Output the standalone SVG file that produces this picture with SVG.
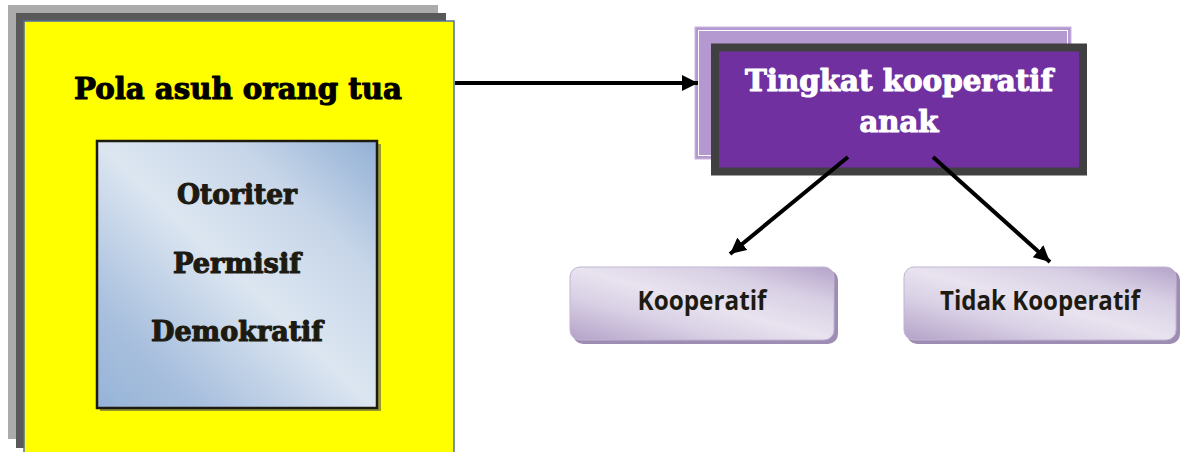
<svg xmlns="http://www.w3.org/2000/svg" width="1186" height="452" viewBox="0 0 1186 452">
  <defs>
    <linearGradient id="blueFill" x1="0" y1="1" x2="1" y2="0">
      <stop offset="0" stop-color="#95b3d7"/>
      <stop offset="0.2" stop-color="#a9c0de"/>
      <stop offset="0.5" stop-color="#dce6f1"/>
      <stop offset="0.75" stop-color="#c6d5e8"/>
      <stop offset="1" stop-color="#92b0d6"/>
    </linearGradient>
    <linearGradient id="lavFill" x1="0" y1="1" x2="1" y2="0">
      <stop offset="0" stop-color="#b3a2c8"/>
      <stop offset="0.3" stop-color="#d9d0e5"/>
      <stop offset="0.5" stop-color="#e8e3ef"/>
      <stop offset="0.75" stop-color="#d8cfe4"/>
      <stop offset="1" stop-color="#b4a3c9"/>
    </linearGradient>
    <marker id="head" markerUnits="userSpaceOnUse" markerWidth="18" markerHeight="18" refX="16" refY="8" orient="auto">
      <path d="M0,0 L16,8 L0,16 Z" fill="#000"/>
    </marker>
  </defs>
  <style>
    .heavy { font-family: "DejaVu Serif", "Liberation Serif", serif; font-weight: bold; text-anchor: middle; stroke-width: 1.1; stroke-linejoin: round; }
    .dark { fill: #1d1b11; stroke: #1d1b11; }
    .title { fill: #000; stroke: #000; font-size: 30px; }
    .item { font-size: 27px; }
    .white { fill: #ffffff; stroke: #ffffff; font-size: 29px; }
    .plain { font-family: "Open Sans", "Noto Sans", sans-serif; font-weight: bold; font-size: 26px; fill: #1d1b11; text-anchor: middle; }
    .conn { stroke: #000; stroke-width: 4; fill: none; marker-end: url(#head); }
    .pill { fill: url(#lavFill); stroke: #c2b5d4; stroke-width: 1; }
    .pillShadow { fill: #9d8db3; }
  </style>

  <!-- parenting styles panel -->
  <g id="pola-asuh">
    <rect x="8" y="5" width="430" height="434" fill="#ababab"/>
    <rect x="16" y="13" width="430" height="435" fill="#595959"/>
    <rect x="24" y="21" width="430" height="445" fill="#ffff00" stroke="#4f6f9c" stroke-width="1.5"/>
    <text class="heavy title" x="238" y="99" textLength="328" lengthAdjust="spacingAndGlyphs">Pola asuh orang tua</text>
  </g>

  <g id="jenis-pola-asuh">
    <rect x="100" y="144" width="281" height="267" fill="#9a9a2e"/>
    <rect x="97" y="141" width="280" height="267" fill="url(#blueFill)" stroke="#1d1b11" stroke-width="2.5"/>
    <text class="heavy dark item" x="237" y="204" textLength="120" lengthAdjust="spacingAndGlyphs">Otoriter</text>
    <text class="heavy dark item" x="237" y="273" textLength="128" lengthAdjust="spacingAndGlyphs">Permisif</text>
    <text class="heavy dark item" x="237" y="341" textLength="172" lengthAdjust="spacingAndGlyphs">Demokratif</text>
  </g>

  <!-- outcome box -->
  <g id="tingkat-kooperatif">
    <rect x="695" y="27" width="376" height="132" fill="#b498d0" stroke="#c9b6df" stroke-width="1"/>
    <rect x="698.5" y="30.5" width="369" height="125" fill="none" stroke="#ffffff" stroke-width="1"/>
    <rect x="715" y="47.5" width="368" height="124" fill="#7030a0" stroke="#404040" stroke-width="8"/>
    <text class="heavy white" x="899" y="91" textLength="308" lengthAdjust="spacingAndGlyphs">Tingkat kooperatif</text>
    <text class="heavy white" x="899" y="132" textLength="79" lengthAdjust="spacingAndGlyphs">anak</text>
  </g>

  <g id="kooperatif">
    <rect class="pillShadow" x="573" y="270" width="265" height="74" rx="10"/>
    <rect class="pill" x="570" y="267" width="264" height="73" rx="10"/>
    <text class="plain" x="702" y="310" textLength="129" lengthAdjust="spacingAndGlyphs">Kooperatif</text>
  </g>

  <g id="tidak-kooperatif">
    <rect class="pillShadow" x="907" y="270" width="273" height="74" rx="10"/>
    <rect class="pill" x="904" y="267" width="272" height="73" rx="10"/>
    <text class="plain" x="1040" y="310" textLength="200" lengthAdjust="spacingAndGlyphs">Tidak Kooperatif</text>
  </g>

  <!-- connectors -->
  <g id="connectors">
    <line class="conn" x1="455" y1="83" x2="698" y2="83"/>
    <line class="conn" x1="848" y1="157" x2="730" y2="254"/>
    <line class="conn" x1="933" y1="157" x2="1050" y2="262"/>
  </g>
</svg>
